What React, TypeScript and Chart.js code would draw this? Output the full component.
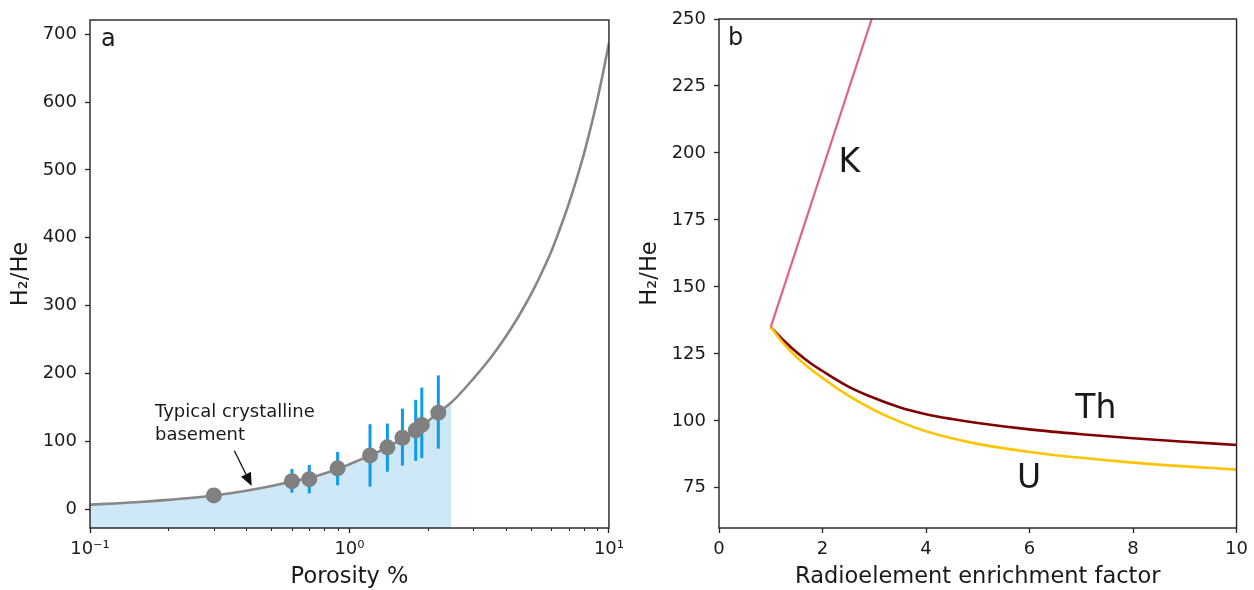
import React, { useEffect, useRef } from "react";
import { Chart, registerables } from "chart.js";
Chart.register(...registerables);

// ---------- Panel a data ----------
const curvePorosity = [0.1, 0.15, 0.2, 0.3, 0.4, 0.5, 0.6, 0.7, 0.8, 0.9, 1.0, 1.2, 1.4, 1.6, 1.8, 2.0, 2.2, 2.5, 3.0, 3.5, 4.0, 4.5, 5.0, 5.5, 6.0, 6.5, 7.0, 7.5, 8.0, 8.5, 9.0, 9.5, 10];
const curveRatio = [6.5, 10, 13.5, 20, 27, 34, 40.5, 46, 52.5, 59, 66, 79, 91, 104, 117, 129, 142, 159, 192, 223, 254, 285, 316, 348, 380, 415, 450, 486, 523, 562, 602, 644, 687];
const fillPorosity = [0.1, 0.15, 0.2, 0.3, 0.4, 0.5, 0.6, 0.7, 0.8, 0.9, 1.0, 1.2, 1.4, 1.6, 1.8, 2.0, 2.2, 2.47];
const fillRatio = [6.5, 10, 13.5, 20, 27, 34, 40.5, 46, 52.5, 59, 66, 79, 91, 104, 117, 129, 142, 157];
const samplePorosity = [0.3, 0.6, 0.7, 0.9, 1.2, 1.4, 1.6, 1.8, 1.9, 2.2];
const sampleRatio = [20, 41, 44, 60, 79, 91, 105, 116, 124, 142];
const sampleErrHigh = [null, 59, 65, 84, 125, 126, 148, 161, 179, 197];
const sampleErrLow = [null, 24, 23, 35, 33, 55, 64, 71, 75, 89];
const xMajorA = [0.1, 1, 10];
const xMajorLabelsA = ["10\u207B\u00B9", "10\u2070", "10\u00B9"];
const yTicksA = [0, 100, 200, 300, 400, 500, 600, 700];

// ---------- Panel b data ----------
const kEnrich = [1, 2.95];
const kRatio = [135, 250];
const thEnrich = [1, 1.25, 1.5, 1.75, 2, 2.5, 3, 3.5, 4, 4.5, 5, 6, 7, 8, 9, 10];
const thRatio = [135, 130, 125.6, 121.8, 118.6, 112.8, 108.5, 105.0, 102.5, 100.7, 99.2, 96.8, 95.0, 93.5, 92.2, 91.0];
const uEnrich = [1, 1.25, 1.5, 1.75, 2, 2.5, 3, 3.5, 4, 4.5, 5, 6, 7, 8, 9, 10];
const uRatio = [135, 128.8, 123.8, 119.6, 116.0, 109.4, 104.0, 99.6, 96.1, 93.5, 91.4, 88.4, 86.2, 84.4, 83.0, 81.8];
const xTicksB = [0, 2, 4, 6, 8, 10];
const yTicksB = [75, 100, 125, 150, 175, 200, 225, 250];

const FONT = "DejaVu Sans";
const TXT = "#1a1a1a";

const pts = (xs: number[], ys: number[]) => xs.map((x, i) => ({ x, y: ys[i] }));

function drawFrame(chart: any) {
  const { ctx, chartArea: a } = chart;
  ctx.save();
  ctx.strokeStyle = "#222";
  ctx.lineWidth = 1.4;
  ctx.strokeRect(a.left, a.top, a.right - a.left, a.bottom - a.top);
  ctx.restore();
}

const tickFont = { family: FONT, size: 18 };
const titleFont = { family: FONT, size: 22.5, lineHeight: 1.1 };

function PanelA() {
  const ref = useRef<HTMLCanvasElement>(null);
  useEffect(() => {
    const minorTicks: number[] = [];
    for (let d = 0.1; d < 10; d *= 10) for (let k = 1; k <= 9; k++) minorTicks.push(+(k * d).toPrecision(3));
    minorTicks.push(10);
    const isMajor = (v: number) => xMajorA.some((m) => Math.abs(v - m) / m < 1e-6);

    const plugin = {
      id: "panelA",
      beforeDatasetDraw(chart: any, args: any) {
        if (args.index !== 2) return;
        const { ctx } = chart;
        const xs = chart.scales.x, ys = chart.scales.y;
        ctx.save();
        ctx.strokeStyle = "#0a9cf0";
        ctx.lineWidth = 3;
        samplePorosity.forEach((p, i) => {
          const hi = sampleErrHigh[i], lo = sampleErrLow[i];
          if (hi == null || lo == null) return;
          const px = xs.getPixelForValue(p);
          ctx.beginPath();
          ctx.moveTo(px, ys.getPixelForValue(hi));
          ctx.lineTo(px, ys.getPixelForValue(lo));
          ctx.stroke();
        });
        ctx.restore();
      },
      afterDraw(chart: any) {
        const { ctx, chartArea: a } = chart;
        const xs = chart.scales.x, ys = chart.scales.y;
        drawFrame(chart);
        // minor ticks
        ctx.save();
        ctx.strokeStyle = "#222";
        ctx.lineWidth = 1;
        minorTicks.forEach((v) => {
          if (isMajor(v)) return;
          const px = Math.round(xs.getPixelForValue(v)) + 0.5;
          ctx.beginPath();
          ctx.moveTo(px, a.bottom);
          ctx.lineTo(px, a.bottom + 3);
          ctx.stroke();
        });
        // panel label
        ctx.fillStyle = TXT;
        ctx.font = `24px ${FONT}`;
        ctx.textAlign = "left";
        ctx.textBaseline = "middle";
        ctx.fillText("a", a.left + 11, a.top + 20);
        // annotation
        ctx.font = `18px ${FONT}`;
        const tx = xs.getPixelForValue(0.178);
        ctx.fillText("Typical crystalline", tx, ys.getPixelForValue(142.5));
        ctx.fillText("basement", tx, ys.getPixelForValue(109));
        // arrow
        const x0 = xs.getPixelForValue(0.36), y0 = ys.getPixelForValue(86);
        const x1 = xs.getPixelForValue(0.42), y1 = ys.getPixelForValue(34);
        const ang = Math.atan2(y1 - y0, x1 - x0);
        const hl = 13, hw = 5.5;
        const bx = x1 - hl * Math.cos(ang), by = y1 - hl * Math.sin(ang);
        ctx.strokeStyle = "#111";
        ctx.lineWidth = 1.3;
        ctx.beginPath();
        ctx.moveTo(x0, y0);
        ctx.lineTo(bx, by);
        ctx.stroke();
        ctx.fillStyle = "#111";
        ctx.beginPath();
        ctx.moveTo(x1, y1);
        ctx.lineTo(bx + hw * Math.sin(ang), by - hw * Math.cos(ang));
        ctx.lineTo(bx - hw * Math.sin(ang), by + hw * Math.cos(ang));
        ctx.closePath();
        ctx.fill();
        ctx.restore();
      },
    };

    const chart = new Chart(ref.current!, {
      type: "line",
      data: {
        datasets: [
          {
            data: pts(fillPorosity, fillRatio),
            borderWidth: 0,
            borderColor: "rgba(0,0,0,0)",
            backgroundColor: "#cfe8f8",
            fill: "start",
            pointRadius: 0,
            cubicInterpolationMode: "monotone",
            order: 3,
          },
          {
            data: pts(curvePorosity, curveRatio),
            borderWidth: 2.6,
            borderColor: "#878787",
            fill: false,
            pointRadius: 0,
            cubicInterpolationMode: "monotone",
            order: 2,
          },
          {
            data: pts(samplePorosity, sampleRatio),
            showLine: false,
            pointRadius: 8,
            pointBackgroundColor: "#808080",
            pointBorderWidth: 0,
            order: 1,
          },
        ],
      } as any,
      options: {
        animation: false,
        responsive: false,
        maintainAspectRatio: false,
        layout: { padding: { left: 0, right: 19, top: 20, bottom: 0 } },
        plugins: { legend: { display: false }, tooltip: { enabled: false } },
        scales: {
          x: {
            type: "logarithmic",
            min: 0.1,
            max: 10,
            afterBuildTicks: (s: any) => {
              s.ticks = minorTicks.map((v) => ({ value: v }));
            },
            afterFit: (s: any) => {
              s.height = 62;
            },
            ticks: {
              autoSkip: false,
              maxRotation: 0,
              padding: 6,
              color: TXT,
              font: tickFont,
              callback: (v: any) => {
                const i = xMajorA.findIndex((m) => Math.abs(Number(v) - m) / m < 1e-6);
                return i >= 0 ? xMajorLabelsA[i] : "";
              },
            },
            grid: {
              drawOnChartArea: false,
              drawTicks: true,
              tickLength: 5,
              tickWidth: 1.3,
              tickColor: (c: any) => (c.tick && isMajor(c.tick.value) ? "#222" : "rgba(0,0,0,0)"),
            },
            border: { display: false },
            title: { display: true, text: "Porosity %", color: TXT, font: titleFont, padding: 0 },
          },
          y: {
            type: "linear",
            min: -28,
            max: 721,
            afterBuildTicks: (s: any) => {
              s.ticks = yTicksA.map((v) => ({ value: v }));
            },
            afterFit: (s: any) => {
              s.width = 90;
            },
            ticks: { padding: 8, color: TXT, font: tickFont },
            grid: { drawOnChartArea: false, drawTicks: true, tickLength: 5, tickWidth: 1.3, tickColor: "#222" },
            border: { display: false },
            title: { display: true, text: "H\u2082/He", color: TXT, font: titleFont, padding: { top: 9, bottom: 0 } },
          },
        },
      } as any,
      plugins: [plugin],
    });
    return () => chart.destroy();
  }, []);
  return <canvas ref={ref} width={630} height={590} style={{ position: "absolute", left: 0, top: 0, width: 630, height: 590 }} />;
}

function PanelB() {
  const ref = useRef<HTMLCanvasElement>(null);
  useEffect(() => {
    const plugin = {
      id: "panelB",
      afterDraw(chart: any) {
        const { ctx, chartArea: a } = chart;
        const xs = chart.scales.x, ys = chart.scales.y;
        drawFrame(chart);
        ctx.save();
        ctx.fillStyle = TXT;
        ctx.textBaseline = "middle";
        ctx.textAlign = "left";
        ctx.font = `24px ${FONT}`;
        ctx.fillText("b", a.left + 9, a.top + 20);
        ctx.textAlign = "center";
        ctx.font = `33px ${FONT}`;
        ctx.fillText("K", xs.getPixelForValue(2.52), ys.getPixelForValue(196));
        ctx.fillText("Th", xs.getPixelForValue(7.28), ys.getPixelForValue(104.4));
        ctx.fillText("U", xs.getPixelForValue(5.99), ys.getPixelForValue(78.2));
        ctx.restore();
      },
    };
    const chart = new Chart(ref.current!, {
      type: "line",
      data: {
        datasets: [
          { data: pts(kEnrich, kRatio), borderColor: "#e3637f", borderWidth: 2.2, pointRadius: 0, fill: false },
          { data: pts(uEnrich, uRatio), borderColor: "#ffc400", borderWidth: 2.6, pointRadius: 0, fill: false, cubicInterpolationMode: "monotone" },
          { data: pts(thEnrich, thRatio), borderColor: "#7f0000", borderWidth: 2.6, pointRadius: 0, fill: false, cubicInterpolationMode: "monotone" },
        ],
      } as any,
      options: {
        animation: false,
        responsive: false,
        maintainAspectRatio: false,
        layout: { padding: { left: 0, right: 12, top: 19, bottom: 0 } },
        plugins: { legend: { display: false }, tooltip: { enabled: false } },
        scales: {
          x: {
            type: "linear",
            min: 0,
            max: 10,
            afterBuildTicks: (s: any) => {
              s.ticks = xTicksB.map((v) => ({ value: v }));
            },
            afterFit: (s: any) => {
              s.height = 62;
            },
            ticks: { autoSkip: false, maxRotation: 0, padding: 6, color: TXT, font: tickFont },
            grid: { drawOnChartArea: false, drawTicks: true, tickLength: 5, tickWidth: 1.3, tickColor: "#222" },
            border: { display: false },
            title: { display: true, text: "Radioelement enrichment factor", color: TXT, font: titleFont, padding: 0 },
          },
          y: {
            type: "linear",
            min: 60,
            max: 250,
            afterBuildTicks: (s: any) => {
              s.ticks = yTicksB.map((v) => ({ value: v }));
            },
            afterFit: (s: any) => {
              s.width = 89;
            },
            ticks: { padding: 8, color: TXT, font: tickFont },
            grid: { drawOnChartArea: false, drawTicks: true, tickLength: 5, tickWidth: 1.3, tickColor: "#222" },
            border: { display: false },
            title: { display: true, text: "H\u2082/He", color: TXT, font: titleFont, padding: { top: 8, bottom: 0 } },
          },
        },
      } as any,
      plugins: [plugin],
    });
    return () => chart.destroy();
  }, []);
  return <canvas ref={ref} width={624} height={590} style={{ position: "absolute", left: 630, top: 0, width: 624, height: 590 }} />;
}

export default function App() {
  return (
    <div style={{ position: "absolute", left: 0, top: 0, width: 1254, height: 590, background: "#fff", overflow: "hidden" }}>
      <PanelA />
      <PanelB />
    </div>
  );
}
